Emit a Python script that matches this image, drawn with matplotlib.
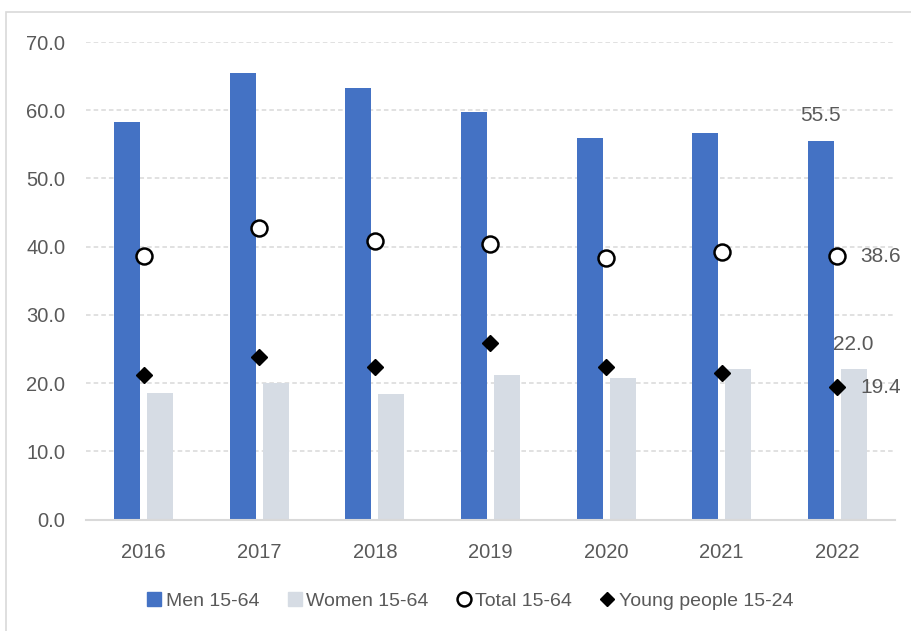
import matplotlib
matplotlib.use("Agg")
import matplotlib.pyplot as plt
from matplotlib.patches import Rectangle
from matplotlib.lines import Line2D
import numpy as np

years = ["2016", "2017", "2018", "2019", "2020", "2021", "2022"]
men = [58.3, 65.4, 63.3, 59.7, 56.0, 56.7, 55.5]
women = [18.5, 20.0, 18.4, 21.2, 20.7, 22.0, 22.0]
total = [38.7, 42.8, 40.8, 40.4, 38.3, 39.2, 38.6]
young = [21.2, 23.8, 22.4, 25.9, 22.3, 21.5, 19.4]
y_ticks = [0, 10, 20, 30, 40, 50, 60, 70]

plt.rcParams["font.family"] = ["Liberation Sans Narrow", "Liberation Sans", "DejaVu Sans"]
TXT = "#595959"
MEN_C = "#4472C4"
WOMEN_C = "#D6DCE4"
GRID_C = "#D9D9D9"

fig = plt.figure(figsize=(9.11, 6.31), dpi=100)
fig.patches.append(Rectangle((6 / 911, -0.01), 1.0, 1 - 12 / 631 + 0.01,
                             transform=fig.transFigure, fill=False,
                             edgecolor="#D9D9D9", linewidth=1.2))
ax = fig.add_axes([86 / 911, 1 - 519.5 / 631, (895 - 86) / 911, (519.5 - 42) / 631])

x = np.arange(len(years))
off = 0.143
w = 0.225
ax.bar(x - off, men, width=w, color=MEN_C, zorder=2)
ax.bar(x + off, women, width=w, color=WOMEN_C, zorder=2)
ax.plot(x, total, linestyle="none", marker="o", markersize=11.5,
        markerfacecolor="white", markeredgecolor="black", markeredgewidth=1.8, zorder=4)
ax.plot(x, young, linestyle="none", marker="D", markersize=8.2,
        color="black", zorder=4)

ax.set_xlim(-0.5, len(years) - 0.5)
ax.set_ylim(0, 70)
ax.set_yticks(y_ticks)
ax.set_yticklabels([f"{v:.1f}" for v in y_ticks])
ax.set_xticks(x)
ax.set_xticklabels(years)
ax.tick_params(axis="both", length=0, labelsize=14.5, colors=TXT)
ax.tick_params(axis="y", pad=15)
ax.tick_params(axis="x", pad=17)
for s in ["top", "right", "left"]:
    ax.spines[s].set_visible(False)
ax.spines["bottom"].set_color(GRID_C)
ax.spines["bottom"].set_linewidth(1.5)
ax.yaxis.grid(True, color=GRID_C, linestyle=(0, (3, 2)), linewidth=1.1, zorder=0)
ax.set_axisbelow(True)

# value labels for the latest year
last = len(years) - 1
ax.text(last - off, men[last] + 2.4, f"{men[last]:.1f}", ha="center", va="bottom",
        fontsize=15, color=TXT)
ax.text(last + 0.2, total[last], f"{total[last]:.1f}", ha="left", va="center",
        fontsize=15, color=TXT)
ax.text(last + off, women[last] + 2.2, f"{women[last]:.1f}", ha="center", va="bottom",
        fontsize=15, color=TXT)
ax.text(last + 0.2, young[last], f"{young[last]:.1f}", ha="left", va="center",
        fontsize=15, color=TXT)

handles = [
    Line2D([], [], linestyle="none", marker="s", markersize=9.5, color=MEN_C),
    Line2D([], [], linestyle="none", marker="s", markersize=9.5, color=WOMEN_C),
    Line2D([], [], linestyle="none", marker="o", markersize=10,
           markerfacecolor="white", markeredgecolor="black", markeredgewidth=1.8),
    Line2D([], [], linestyle="none", marker="D", markersize=7, color="black"),
]
labels = ["Men 15-64", "Women 15-64", "Total 15-64", "Young people 15-24"]
leg = fig.legend(handles, labels, loc="center", bbox_to_anchor=(470 / 911, 1 - 601 / 631),
                 ncol=4, frameon=False, fontsize=14, handlelength=0.8, handletextpad=0.2,
                 columnspacing=1.4, labelcolor=TXT)

fig.savefig("out.png", dpi=100)
